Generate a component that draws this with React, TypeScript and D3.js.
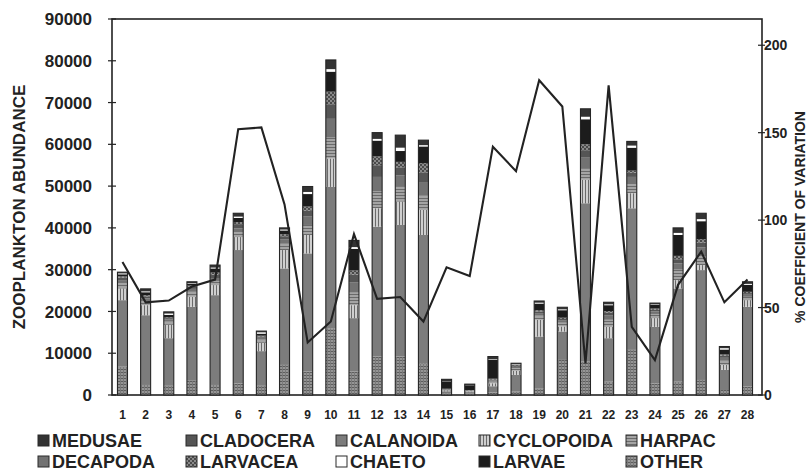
import React from 'react';
import * as d3 from 'd3';

// sampling stations 1..28
const stations = ['1', '2', '3', '4', '5', '6', '7', '8', '9', '10', '11', '12', '13', '14',
  '15', '16', '17', '18', '19', '20', '21', '22', '23', '24', '25', '26', '27', '28'];

// abundance per group
const other = [6800, 2400, 2200, 3400, 2400, 2800, 2200, 7200, 5600, 16000, 5600, 9200, 9200, 7600, 400, 300, 600, 800, 1500, 8400, 8000, 3200, 10800, 2800, 3200, 3600, 1200, 2000];
const calanoida = [15900, 16700, 11400, 17700, 21500, 31900, 8300, 23100, 28300, 33800, 12800, 31100, 31500, 30700, 500, 400, 1500, 4000, 12500, 6800, 37900, 10400, 33900, 13500, 22300, 26300, 4800, 19100];
const cyclopoida = [2800, 2400, 3200, 2400, 2400, 3100, 2000, 4400, 4400, 6800, 3100, 4400, 5600, 6000, 200, 100, 700, 1000, 4000, 1200, 5600, 2700, 3600, 2100, 2000, 1200, 1200, 1600];
const harpac = [1200, 1000, 800, 1200, 1000, 1200, 800, 1500, 2400, 5000, 3000, 4000, 3500, 3500, 100, 100, 400, 600, 1000, 900, 2800, 1700, 2200, 1000, 2500, 2400, 1000, 800];
const decapoda = [800, 600, 500, 700, 700, 900, 400, 1000, 2000, 4500, 2500, 3500, 2800, 3000, 100, 100, 300, 300, 600, 500, 2500, 1000, 1700, 600, 1500, 1800, 700, 500];
const cladocera = [600, 500, 300, 500, 800, 1000, 300, 800, 1400, 3500, 1800, 2800, 1900, 2500, 100, 100, 200, 200, 400, 400, 1800, 700, 1000, 400, 1000, 1200, 500, 400];
const larvacea = [300, 300, 200, 300, 500, 500, 200, 500, 1000, 3000, 1000, 2100, 1300, 2200, 100, 100, 200, 200, 300, 300, 1400, 400, 500, 300, 800, 800, 300, 300];
const larvae = [500, 700, 600, 500, 1000, 1000, 500, 900, 3000, 4800, 5200, 3800, 2600, 4000, 1800, 1100, 4600, 200, 1600, 1800, 6000, 1400, 5500, 900, 5000, 4300, 1200, 1700];
const chaeto = [200, 200, 300, 100, 200, 300, 300, 200, 500, 600, 400, 400, 800, 300, 50, 0, 100, 100, 200, 200, 600, 200, 500, 100, 500, 500, 300, 200];
const medusae = [300, 600, 400, 300, 600, 800, 300, 400, 1300, 2200, 1600, 1500, 3000, 1200, 400, 300, 600, 200, 400, 500, 1900, 500, 1000, 300, 1200, 1400, 400, 500];

// % coefficient of variation (right axis)
const cv = [76, 53, 54, 62, 66, 152, 153, 109, 30, 42, 92, 55, 56, 42, 73, 68, 142, 128, 180, 165, 18, 177, 39, 20, 63, 82, 53, 66];

const leftTicks = [0, 10000, 20000, 30000, 40000, 50000, 60000, 70000, 80000, 90000];
const rightTicks = [0, 50, 100, 150, 200];

// legend order (row by row)
const legendNames = ['MEDUSAE', 'CLADOCERA', 'CALANOIDA', 'CYCLOPOIDA', 'HARPAC',
  'DECAPODA', 'LARVACEA', 'CHAETO', 'LARVAE', 'OTHER'];

// stacking order, bottom to top
const stackKeys = ['OTHER', 'CALANOIDA', 'CYCLOPOIDA', 'HARPAC', 'DECAPODA',
  'CLADOCERA', 'LARVACEA', 'LARVAE', 'CHAETO', 'MEDUSAE'];

const seriesByName: Record<string, number[]> = {
  OTHER: other, CALANOIDA: calanoida, CYCLOPOIDA: cyclopoida, HARPAC: harpac,
  DECAPODA: decapoda, CLADOCERA: cladocera, LARVACEA: larvacea, LARVAE: larvae,
  CHAETO: chaeto, MEDUSAE: medusae,
};

const fills: Record<string, string> = {
  MEDUSAE: '#333333',
  CLADOCERA: '#555555',
  CALANOIDA: '#7c7c7c',
  CYCLOPOIDA: 'url(#pCyc)',
  HARPAC: 'url(#pHarp)',
  DECAPODA: '#727272',
  LARVACEA: 'url(#pLarvacea)',
  CHAETO: '#ffffff',
  LARVAE: '#1c1c1c',
  OTHER: 'url(#pOther)',
};

const W = 809;
const H = 471;
const plot = { left: 112, right: 762, top: 19, bottom: 395 };
const font = '"Liberation Sans", Arial, sans-serif';
const ink = '#222';

export default function App() {
  const rows = stations.map((s, i) => {
    const r: Record<string, number | string> = { station: s };
    stackKeys.forEach((k) => { r[k] = seriesByName[k][i]; });
    return r;
  });
  const stacked = d3.stack<Record<string, number | string>>().keys(stackKeys)(rows as any);

  const x = d3.scaleBand().domain(stations).range([110, 760]).paddingInner(0.568).paddingOuter(0.323);
  const y = d3.scaleLinear().domain([0, 90000]).range([plot.bottom, plot.top]);
  const y2 = d3.scaleLinear().domain([0, 215]).range([plot.bottom, plot.top]);
  const bw = x.bandwidth();
  const cx = (s: string) => (x(s) as number) + bw / 2;

  const line = d3.line<number>()
    .x((_, i) => cx(stations[i]))
    .y((d) => y2(d));

  const totals = stations.map((_, i) => stackKeys.reduce((a, k) => a + seriesByName[k][i], 0));

  const legendCols = [52, 200, 350, 493, 640];
  const legendRows = [447, 468];

  return (
    <svg width={W} height={H} style={{ position: 'absolute', left: 0, top: 0, background: '#fff' }}
      fontFamily={font}>
      <defs>
        <pattern id="pCyc" width="3" height="3" patternUnits="userSpaceOnUse">
          <rect width="3" height="3" fill="#cfcfcf" />
          <rect width="1" height="3" fill="#6a6a6a" />
        </pattern>
        <pattern id="pHarp" width="3" height="3" patternUnits="userSpaceOnUse">
          <rect width="3" height="3" fill="#a4a4a4" />
          <rect width="3" height="1" fill="#6a6a6a" />
        </pattern>
        <pattern id="pLarvacea" width="4" height="4" patternUnits="userSpaceOnUse">
          <rect width="4" height="4" fill="#8a8a8a" />
          <rect width="2" height="2" fill="#4a4a4a" />
          <rect x="2" y="2" width="2" height="2" fill="#4a4a4a" />
        </pattern>
        <pattern id="pOther" width="3" height="3" patternUnits="userSpaceOnUse">
          <rect width="3" height="3" fill="#959595" />
          <rect width="3" height="1" fill="#5e5e5e" />
          <rect width="1" height="3" fill="#7a7a7a" />
        </pattern>
      </defs>

      {/* frame */}
      <rect x={plot.left} y={plot.top} width={plot.right - plot.left} height={plot.bottom - plot.top}
        fill="none" stroke={ink} strokeWidth={1.6} />

      {/* left axis ticks + labels */}
      {leftTicks.map((t) => (
        <g key={'l' + t}>
          <line x1={plot.left - 4} x2={plot.left + 4} y1={y(t)} y2={y(t)} stroke={ink} strokeWidth={1.2} />
          <text x={92} y={y(t)} dy="0.36em" textAnchor="end" fontSize={17} fontWeight="bold" fill={ink}>{t}</text>
        </g>
      ))}

      {/* right axis ticks + labels */}
      {rightTicks.map((t) => (
        <g key={'r' + t}>
          <line x1={plot.right - 4} x2={plot.right + 3} y1={y2(t)} y2={y2(t)} stroke={ink} strokeWidth={1.2} />
          <text x={plot.right + 2} y={y2(t)} dy="0.36em" fontSize={14} fontWeight="bold" fill={ink}>{t}</text>
        </g>
      ))}

      {/* stacked bars */}
      {stacked.map((layer) => (
        <g key={layer.key} fill={fills[layer.key]}>
          {layer.map((d, i) => (
            <rect key={i} x={x(stations[i])} y={y(d[1])} width={bw}
              height={Math.max(0, y(d[0]) - y(d[1]))} />
          ))}
        </g>
      ))}
      {totals.map((t, i) => (
        <rect key={'o' + i} x={x(stations[i])} y={y(t)} width={bw} height={y(0) - y(t)}
          fill="none" stroke="#262626" strokeWidth={1.1} />
      ))}

      {/* CV line */}
      <path d={line(cv) || ''} fill="none" stroke={ink} strokeWidth={2.1} strokeLinejoin="miter" />

      {/* x labels */}
      {stations.map((s) => (
        <text key={'x' + s} x={cx(s)} y={419} textAnchor="middle" fontSize={12} fontWeight="bold" fill={ink}>{s}</text>
      ))}

      {/* axis titles */}
      <text transform="translate(25,207) rotate(-90)" textAnchor="middle" fontSize={17} fontWeight="bold" fill={ink}>
        ZOOPLANKTON ABUNDANCE
      </text>
      <text transform="translate(805,217) rotate(-90)" textAnchor="middle" fontSize={14} fontWeight="bold" fill={ink}>
        % COEFFICIENT OF VARIATION
      </text>

      {/* legend */}
      {legendNames.map((n, i) => {
        const lx = legendCols[i % 5];
        const ly = legendRows[Math.floor(i / 5)];
        return (
          <g key={'lg' + n}>
            <rect x={lx - 14} y={ly - 12} width={11} height={11} fill={fills[n]} stroke="#2a2a2a" strokeWidth={1} />
            <text x={lx} y={ly} fontSize={18} fontWeight="bold" fill={ink}>{n}</text>
          </g>
        );
      })}
    </svg>
  );
}
